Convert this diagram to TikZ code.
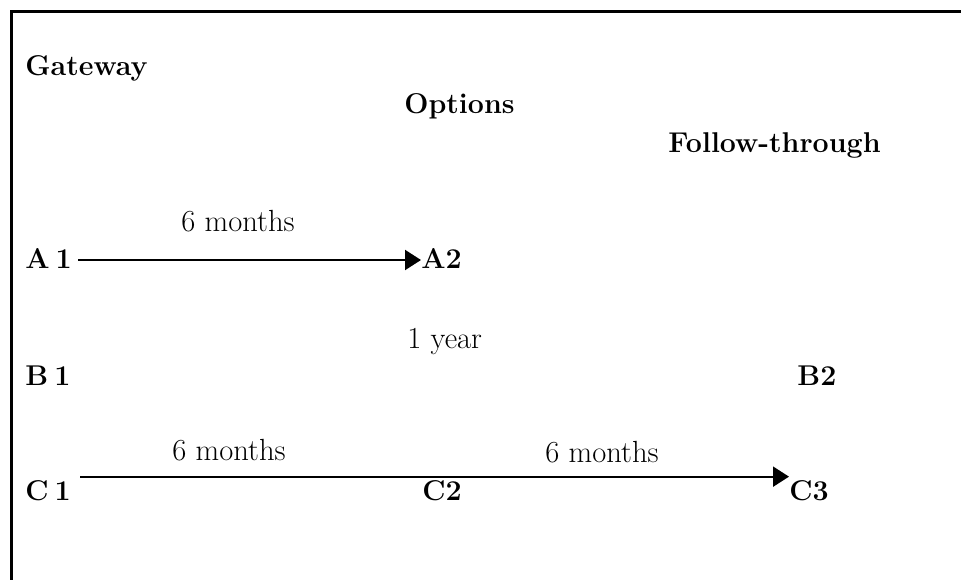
\documentclass[tikz,border=0pt]{standalone}
\usetikzlibrary{arrows.meta}

\begin{document}
\begin{tikzpicture}[x=0.5pt,y=-0.5pt,
   stage/.style={anchor=base west,inner sep=0pt,font=\fontsize{14.3}{17}\selectfont\bfseries},
   span/.style={anchor=base west,inner sep=0pt,font=\fontsize{15.3}{18}\selectfont},
   link/.style={line width=1pt},
   tip/.style={-{Triangle[length=8pt,width=10pt]}}]
   \useasboundingbox (0,0) rectangle (961,580);
   \draw[line width=1.5pt] (961,11) -- (11,11) -- (11,580);
   \node[stage] (gate) at (25,75) {Gateway};
   \node[stage] (opt) at (404,113) {Options};
   \node[stage] (follow) at (668,152) {Follow-through};
   \node[stage] (a1) at (25,268) {A\kern3pt 1};
   \node[stage] (a2) at (421,268) {A2};
   \node[stage] (b1) at (25,385) {B\kern3pt 1};
   \node[stage] (b2) at (797,385) {B2};
   \node[stage] (c1) at (25,500) {C\kern3pt 1};
   \node[stage] (c2) at (422,500) {C2};
   \node[stage] (c3) at (789,500) {C3};
   \node[span] (ta) at (181,231) {6 months};
   \node[span] (tb) at (407,348) {1 year};
   \node[span] (tc1) at (172,460) {6 months};
   \node[span] (tc2) at (545,462) {6 months};
   \draw[link,tip,shorten <=3pt] ([yshift=-1pt]a1.east) -- ([yshift=-1pt]a2.west);
   \draw[link,shorten <=4.5pt] ([yshift=1.5pt]c1.north east) -- ([yshift=1.5pt]c2.north west);
   \draw[link,tip] ([yshift=1.5pt]c2.north west) -- ([yshift=1.5pt]c3.north west);
\end{tikzpicture}
\end{document}
